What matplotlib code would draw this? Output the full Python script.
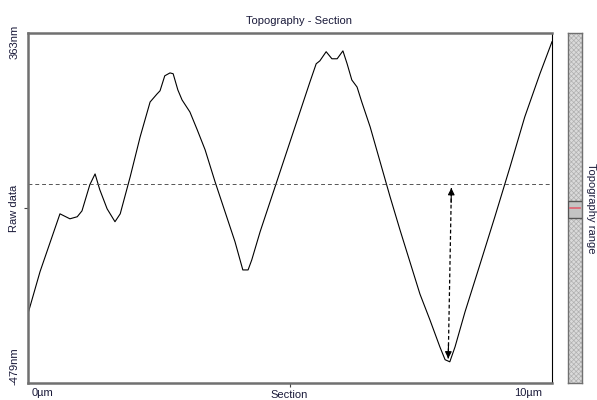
import numpy as np
import matplotlib.pyplot as plt
from matplotlib.patches import Rectangle

plt.rcParams['font.family'] = ['Liberation Sans', 'DejaVu Sans']
plt.rcParams['hatch.linewidth'] = 0.5

# section profile, x in um, height in nm
x_um = [0.00, 0.23, 0.61, 0.80, 0.94, 1.03, 1.18, 1.28, 1.37, 1.51, 1.66, 1.76,
        1.95, 2.14, 2.33, 2.46, 2.52, 2.61, 2.71, 2.77, 2.86, 2.94, 3.09, 3.23,
        3.38, 3.57, 3.76, 3.95, 4.10, 4.20, 4.27, 4.43, 4.62, 4.81, 5.00, 5.19,
        5.38, 5.50, 5.57, 5.69, 5.80, 5.90, 6.01, 6.09, 6.18, 6.28, 6.37, 6.53,
        6.72, 6.91, 7.10, 7.29, 7.48, 7.67, 7.86, 7.96, 8.05, 8.15, 8.34, 8.63,
        8.91, 9.20, 9.48, 9.77, 10.00]
height_nm = [-312, -211, -72, -84, -79, -65, -2, 24, -14, -60, -91, -72,
             17, 113, 197, 216, 224, 260, 267, 265, 226, 202, 173, 130,
             82, 5, -67, -139, -207, -207, -183, -115, -43, 29, 101, 173,
             245, 289, 296, 318, 301, 301, 320, 289, 250, 233, 197, 137,
             53, -31, -111, -188, -265, -327, -392, -423, -428, -392, -308, -192,
             -79, 41, 161, 265, 342]

y_min, y_max = -479, 363
ref_level = 0
arrow_x = [8.02, 8.08]
arrow_y = [-420, -10]
range_box = [-82, -41]
range_mark = -58

fig = plt.figure(figsize=(5.97, 4.0), dpi=100)
ax = fig.add_axes([0.0469, 0.0425, 0.8777, 0.875])

ax.plot(x_um, height_nm, color='black', lw=0.8)
ax.axhline(ref_level, color='#555555', lw=0.7, ls=(0, (4, 3)))
# double arrow: dashed shaft, solid heads
ax.plot(arrow_x, arrow_y, color='black', lw=0.9, ls=(0, (3, 2)))
head = dict(arrowstyle='-|>', color='black', lw=0.8, mutation_scale=10,
            shrinkA=0, shrinkB=0)
dx = (arrow_x[1] - arrow_x[0]) * 0.08
ax.annotate('', xy=(arrow_x[0], arrow_y[0]),
            xytext=(arrow_x[0] + dx, arrow_y[0] + 35), arrowprops=head)
ax.annotate('', xy=(arrow_x[1], arrow_y[1]),
            xytext=(arrow_x[1] - dx, arrow_y[1] - 35), arrowprops=head)

ax.set_xlim(0, 10)
ax.set_ylim(y_min, y_max)
ax.set_xticks([5])
ax.set_yticks([(y_min + y_max) / 2])
ax.set_xticklabels([])
ax.set_yticklabels([])
ax.tick_params(length=3, width=0.8, color='#444444')
for side in ['left', 'bottom', 'top']:
    ax.spines[side].set_color('#707070')
    ax.spines[side].set_linewidth(1.8)
ax.spines['right'].set_color('black')
ax.spines['right'].set_linewidth(0.8)

txt = dict(fontsize=8, color='#1a1a3a')
fig.text(0.5, 0.948, 'Topography - Section', ha='center', va='center', **txt)
fig.text(0.485, 0.012, 'Section', ha='center', va='center', **txt)
fig.text(0.072, 0.018, '0\u00b5m', ha='center', va='center', **txt)
fig.text(0.885, 0.018, '10\u00b5m', ha='center', va='center', **txt)
fig.text(0.024, 0.895, '363nm', rotation=90, ha='center', va='center', **txt)
fig.text(0.024, 0.085, '-479nm', rotation=90, ha='center', va='center', **txt)
fig.text(0.024, 0.48, 'Raw data', rotation=90, ha='center', va='center', **txt)
fig.text(0.990, 0.48, 'Topography range', rotation=270, ha='center', va='center', **txt)

# topography range bar
cb = fig.add_axes([0.9514, 0.0425, 0.0235, 0.875])
cb.set_xlim(0, 1)
cb.set_ylim(y_min, y_max)
cb.add_patch(Rectangle((0, y_min), 1, y_max - y_min, facecolor='#dadada',
                       edgecolor='#b0b0b0', hatch='xxxxxxx', lw=0))
cb.add_patch(Rectangle((0, range_box[0]), 1, range_box[1] - range_box[0],
                       facecolor='#c4c4c4', edgecolor='#555555', lw=1.0, zorder=3))
cb.plot([0.15, 0.85], [range_mark, range_mark], color='#e06070', lw=1.2, zorder=4)
cb.set_xticks([])
cb.set_yticks([])
for s in cb.spines.values():
    s.set_color('#707070')
    s.set_linewidth(1.0)

fig.savefig('out.png', dpi=100)
